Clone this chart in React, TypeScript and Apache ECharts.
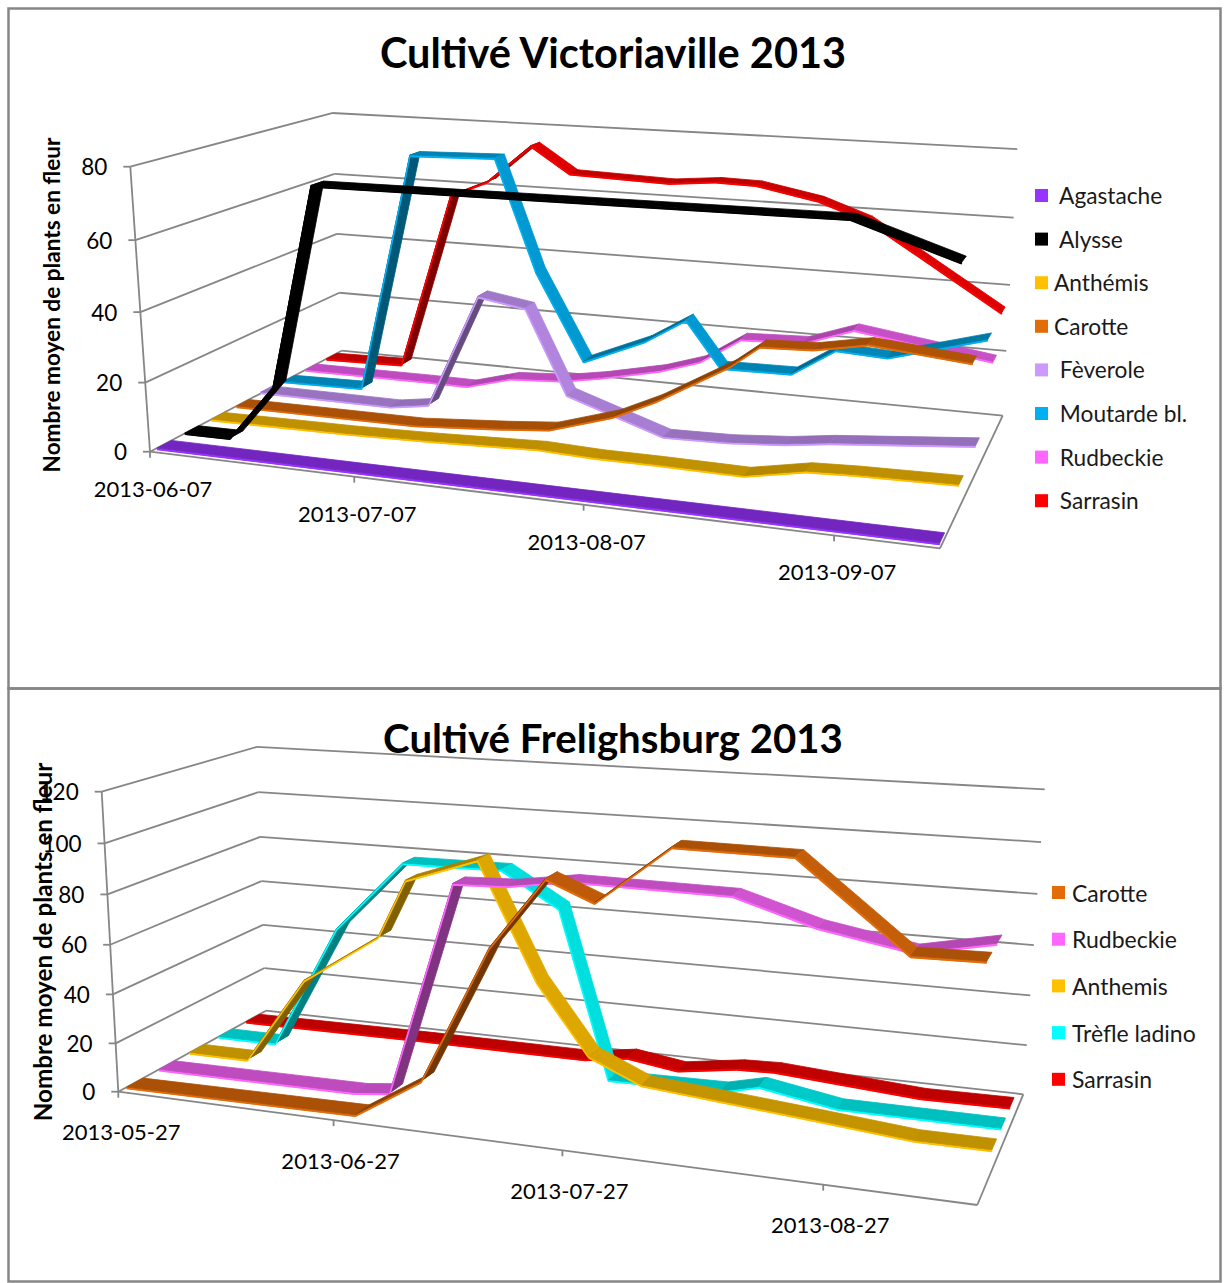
import React, { useEffect, useRef } from "react";
import * as echarts from "echarts";

type Pt = [number, number];
type Row = [number, number];

// ---------- data : Victoriaville (days after the first date, plants in flower)
const namesA = ["Agastache", "Alysse", "Anthémis", "Carotte", "Fèverole", "Moutarde bl.", "Rudbeckie", "Sarrasin"];
const agastache: Row[] = [[0, 0], [104, 0]];
const alysse: Row[] = [[0, 0.1], [7, 0.2], [14, 16.7], [21, 74.7], [91, 75.4], [104, 66.6]];
const anthemisA: Row[] = [[0, 0], [21, 0.4], [33, 1], [49, 2.2], [57, 1.6], [65, 1.6], [73, 1.4], [77, 1.3], [85, 4.5], [91, 5], [104, 5.5]];
const carotteA: Row[] = [[0, 0], [28, 0.2], [41, 2.1], [48, 3.4], [57, 9.1], [63, 14.9], [73, 26.9], [77, 33.3], [84, 33.9], [91, 36.6], [104, 34]];
const feverole: Row[] = [[0, 0.4], [21, 0.3], [27, 2.1], [35, 36.8], [42, 34.5], [48, 9.6], [62, 0.1], [71, 0.5], [79, 1.8], [85, 3.5], [104, 7.1]];
const moutarde: Row[] = [[0, 0], [13, 0.5], [22, 74.6], [35, 75.3], [41, 41.9], [48, 16], [57, 23.8], [63, 31.4], [68, 18], [78, 18.3], [84, 26.4], [91, 25.6], [104, 33.3]];
const rudbeckieA: Row[] = [[0, 0], [20, 0.2], [27, 0.1], [34, 4], [42, 5], [48, 7.1], [57, 11.1], [63, 15.1], [69, 23.2], [78, 23.9], [85, 29], [104, 23.2]];
const sarrasinA: Row[] = [[0, 0], [13, 0.6], [22, 57.6], [28, 62.8], [35, 74.8], [41, 66.9], [56, 65.9], [63, 67.2], [69, 66.9], [78, 63.4], [85, 58.4], [92, 49.5], [104, 34.1]];
const valuesA = [agastache, alysse, anthemisA, carotteA, feverole, moutarde, rudbeckieA, sarrasinA];
const colorsA = ["#9933FF", "#000000", "#FFC000", "#E36C09", "#CC99FF", "#00B0F0", "#FF66FF", "#FF0000"];
const datesA = ["2013-06-07", "2013-07-07", "2013-08-07", "2013-09-07"];
const ticksA = [0, 20, 40, 60, 80];

// ---------- data : Frelighsburg
const namesB = ["Carotte", "Rudbeckie", "Anthemis", "Trèfle ladino", "Sarrasin"];
const carotteB: Row[] = [[0, 0], [33, 0.9], [42, 17.5], [51, 71.2], [58, 98.2], [64, 91], [73, 112.7], [87, 112.3], [100, 81.7], [108, 82.1]];
const rudbeckieB: Row[] = [[0, 0], [29, 0.5], [34, 2.2], [43, 87.9], [50, 88.6], [58, 92.2], [78, 91.6], [88, 82.6], [99, 76.7], [108, 82.3]];
const anthemisB: Row[] = [[0, 0], [9, 0], [18, 36.8], [29, 57.9], [33, 81.8], [43, 92.1], [51, 45.6], [58, 18.1], [65, 9], [87, 3.3], [99, 0], [108, 0]];
const trefle: Row[] = [[0, 0], [9, 0], [19, 53.1], [29, 83], [43, 83.4], [51, 69.5], [58, 1], [73, 1.7], [78, 5.4], [88, 0.2], [108, 0]];
const sarrasinB: Row[] = [[0, 0], [28, 0.5], [52, 0.3], [58, 3.1], [65, 0], [73, 3.6], [78, 4.1], [97, 0], [108, 0.3]];
const valuesB = [carotteB, rudbeckieB, anthemisB, trefle, sarrasinB];
const colorsB = ["#E36C09", "#FF66FF", "#FFC000", "#00FFFF", "#FF0000"];
const datesB = ["2013-05-27", "2013-06-27", "2013-07-27", "2013-08-27"];
const ticksB = [0, 20, 40, 60, 80, 100, 120];

const AXIS_TITLE = "Nombre moyen de plants en fleur";
const FONT = "Lato";
const GRID_COLOR = "#868686";
const DAY = 864e5;

// ---------- perspective box: the projected corners of the plot cube
function makeBox(O: Pt, A: Pt, B: Pt, C: Pt, D: Pt, c: number) {
  const a1 = A[0] - D[0], a2 = A[1] - D[1], b1 = B[0] - D[0], b2 = B[1] - D[1], r1 = O[0] - D[0], r2 = O[1] - D[1];
  const det = a1 * b2 - a2 * b1;
  const a = (r1 * b2 - r2 * b1) / det, b = (a1 * r2 - a2 * r1) / det;
  return (x: number, y: number, z: number): Pt => {
    const w = 1 + x * (a - 1) + y * (b - 1) + z * (c - 1);
    return [
      (O[0] + x * (a * A[0] - O[0]) + y * (b * B[0] - O[0]) + z * (c * C[0] - O[0])) / w,
      (O[1] + x * (a * A[1] - O[1]) + y * (b * B[1] - O[1]) + z * (c * C[1] - O[1])) / w,
    ];
  };
}

const shade = (hex: string, k: number) => {
  const n = parseInt(hex.slice(1), 16);
  const f = (s: number) => Math.round(((n >> s) & 255) * k);
  return `rgb(${f(16)},${f(8)},${f(0)})`;
};

interface Panel {
  gridIndex: number; rect: { left: number; top: number; width: number; height: number };
  box: (x: number, y: number, z: number) => Pt; start: number; span: number; vMax: number;
  names: string[]; values: Row[][]; colors: string[]; dates: string[]; ticks: number[]; half: number; labelDx: number; labelDy: number;
}

function panelSeries(p: Panel, zBase: number): any[] {
  const { rect, box } = p;
  const norm = (c: number[]): Pt => [(c[0] - rect.left) / rect.width, (rect.top + rect.height - c[1]) / rect.height];
  const base = { type: "custom", xAxisIndex: p.gridIndex, yAxisIndex: p.gridIndex, silent: true, clip: false };
  const line = (a: Pt, b: Pt, w = 1.8) => ({ type: "line", shape: { x1: a[0], y1: a[1], x2: b[0], y2: b[1] }, style: { stroke: GRID_COLOR, lineWidth: w, fill: null } });
  const out: any[] = [];
  // walls, gridlines, value labels
  out.push({
    ...base, z: zBase, data: p.ticks.map((v) => [p.start, v]), encode: { x: 0, y: 1 },
    renderItem: (_: any, api: any) => {
      const [, z] = norm(api.coord([api.value(0), api.value(1)]));
      const f = box(0, 0, z), bk = box(0, 1, z), r = box(1, 1, z);
      const kids: any[] = [line(f, bk), line(bk, r), line(f, [f[0] - 7, f[1]]),
        { type: "text", x: f[0] - 23, y: f[1], style: { text: String(api.value(1)), fill: "#000", fontFamily: FONT, fontSize: 22.5, textAlign: "right", textVerticalAlign: "middle" } }];
      if (api.value(1) === 0) {
        const top = box(0, 0, 1);
        kids.push(line(f, top), line(box(0, 0, 0), box(1, 0, 0)), line(box(1, 0, 0), box(1, 1, 0)));
      }
      return { type: "group", children: kids };
    },
  });
  // date ticks
  out.push({
    ...base, z: zBase + 1, data: p.dates.map((d) => [Date.parse(d + "T00:00:00Z"), 0]), encode: { x: 0, y: 1 },
    renderItem: (params: any, api: any) => {
      const [x] = norm(api.coord([api.value(0), 0]));
      const t = box(x, 0, 0);
      return { type: "group", children: [line(t, [t[0], t[1] + 6]),
        { type: "text", x: t[0] + (params.dataIndex ? p.labelDx : 3), y: t[1] + p.labelDy, style: { text: p.dates[params.dataIndex], fill: "#000", fontFamily: FONT, fontSize: 22, textAlign: "center", textVerticalAlign: "middle" } }] };
    },
  });
  // one ribbon per series, the deepest first
  const n = p.names.length;
  for (let i = n - 1; i >= 0; i--) {
    const depth = (i + 0.5) / n, color = p.colors[i], rows = p.values[i];
    const segs = rows.slice(1).map((r, k) => [p.start + rows[k][0] * DAY, rows[k][1], p.start + r[0] * DAY, r[1]]);
    out.push({
      ...base, name: p.names[i], z: zBase + 2 + (n - i), itemStyle: { color }, data: segs, encode: { x: [0, 2], y: [1, 3] },
      renderItem: (_: any, api: any) => {
        const [u0, z0] = norm(api.coord([api.value(0), api.value(1)]));
        const [u1, z1] = norm(api.coord([api.value(2), api.value(3)]));
        const slope = (z1 - z0) / (u1 - u0);
        const k = slope > 0 ? 0.75 - 0.25 * Math.min(1, slope / 3) : 0.75 + 0.12 * Math.min(1, -slope / 1.5);
        const fa = box(u0, depth - p.half, z0), fb = box(u1, depth - p.half, z1);
        const ba = box(u0, depth + p.half, z0), bb = box(u1, depth + p.half, z1);
        const la = box(u0, depth - p.half, z0 - 0.005), lb = box(u1, depth - p.half, z1 - 0.005);
        const fill = shade(color, k);
        return { type: "group", children: [
          { type: "polygon", shape: { points: [fa, fb, lb, la] }, style: { fill: color, stroke: color, lineWidth: 0.8 } },
          { type: "polygon", shape: { points: [fa, fb, bb, ba] }, style: { fill, stroke: fill, lineWidth: 0.8 } },
          { type: "line", shape: { x1: la[0], y1: la[1], x2: lb[0], y2: lb[1] }, style: { stroke: color, lineWidth: 1.6, fill: null } },
        ] };
      },
    });
  }
  return out;
}

const rectA = { left: 0, top: 0, width: 1000, height: 400 };
const rectB = { left: 0, top: 600, width: 1000, height: 400 };
const panelA: Panel = {
  gridIndex: 0, rect: rectA, box: makeBox([150, 451.7], [940, 548.3], [341.7, 350.7], [130.3, 166.7], [1002.7, 415.7], 0.96),
  start: Date.UTC(2013, 5, 7), span: 104.3, vMax: 80, names: namesA, values: valuesA, colors: colorsA, dates: datesA, ticks: ticksA, half: 0.032, labelDx: 3, labelDy: 36.5,
};
const panelB: Panel = {
  gridIndex: 1, rect: rectB, box: makeBox([118.3, 1091.7], [977.3, 1205], [266, 1010.7], [101.7, 791.7], [1023.3, 1094.3], 0.96),
  start: Date.UTC(2013, 4, 27), span: 108.9, vMax: 120, names: namesB, values: valuesB, colors: colorsB, dates: datesB, ticks: ticksB, half: 0.05, labelDx: 7, labelDy: 40,
};
const axisOf = (p: Panel, kind: string) => kind === "x"
  ? { type: "time", gridIndex: p.gridIndex, min: p.start, max: p.start + p.span * DAY, show: false }
  : { type: "value", gridIndex: p.gridIndex, min: 0, max: p.vMax, show: false };

const legendOf = (names: string[], left: number, top: number, gap: number, size: number, padLeft: number, pad: (n: string) => string) => ({
  orient: "vertical", left, top, padding: 0, itemGap: gap, itemWidth: 13, itemHeight: 13, icon: "rect", selectedMode: false,
  data: names, formatter: pad, textStyle: { fontFamily: FONT, fontSize: size, color: "#1a1a1a", lineHeight: 22, padding: [0, 0, 0, padLeft] },
});
const titleOf = (text: string, top: number, size: number) => ({
  text, left: 613, top, textAlign: "center", padding: 0,
  textStyle: { fontFamily: FONT, fontSize: size, fontWeight: "bold", color: "#000" },
});
const axisTitle = (x: number, y: number, size: number) => ({
  type: "text", x, y, rotation: Math.PI / 2, z: 100, silent: true,
  style: { text: AXIS_TITLE, fontFamily: FONT, fontWeight: "bold", fontSize: size, fill: "#000", textAlign: "center", textVerticalAlign: "middle" },
});
const frame = (y: number, h: number) => ({ type: "rect", z: -1, silent: true, shape: { x: 8.5, y, width: 1212, height: h }, style: { fill: "none", stroke: "#868686", lineWidth: 2.5 } });

export default function App() {
  const ref = useRef<HTMLDivElement>(null);
  useEffect(() => {
    document.body.style.margin = "0";
    const chart = echarts.init(ref.current!, undefined, { renderer: "svg" });
    chart.setOption({
      animation: false,
      backgroundColor: "#fff",
      title: [titleOf("Cultivé Victoriaville 2013", 31, 41.5), titleOf("Cultivé Frelighsburg 2013", 717, 40.2)],
      grid: [
        { left: rectA.left, top: rectA.top, width: rectA.width, height: rectA.height, show: false },
        { left: rectB.left, top: rectB.top, width: rectB.width, height: rectB.height, show: false },
      ],
      xAxis: [axisOf(panelA, "x"), axisOf(panelB, "x")],
      yAxis: [axisOf(panelA, "y"), axisOf(panelB, "y")],
      legend: [
        legendOf(namesA, 1035, 184, 20.6, 22.7, 1, (n) => (n === "Anthémis" || n === "Carotte" ? n : " " + n)),
        legendOf(namesB, 1052, 881, 23.7, 23, 2, (n) => n),
      ],
      graphic: [frame(8.5, 680), frame(688.5, 593), axisTitle(51, 305, 22.6), axisTitle(42, 942, 24.2)],
      series: [...panelSeries(panelA, 2), ...panelSeries(panelB, 30)],
    });
    return () => chart.dispose();
  }, []);
  return <div ref={ref} style={{ width: 1225, height: 1283 }} />;
}
